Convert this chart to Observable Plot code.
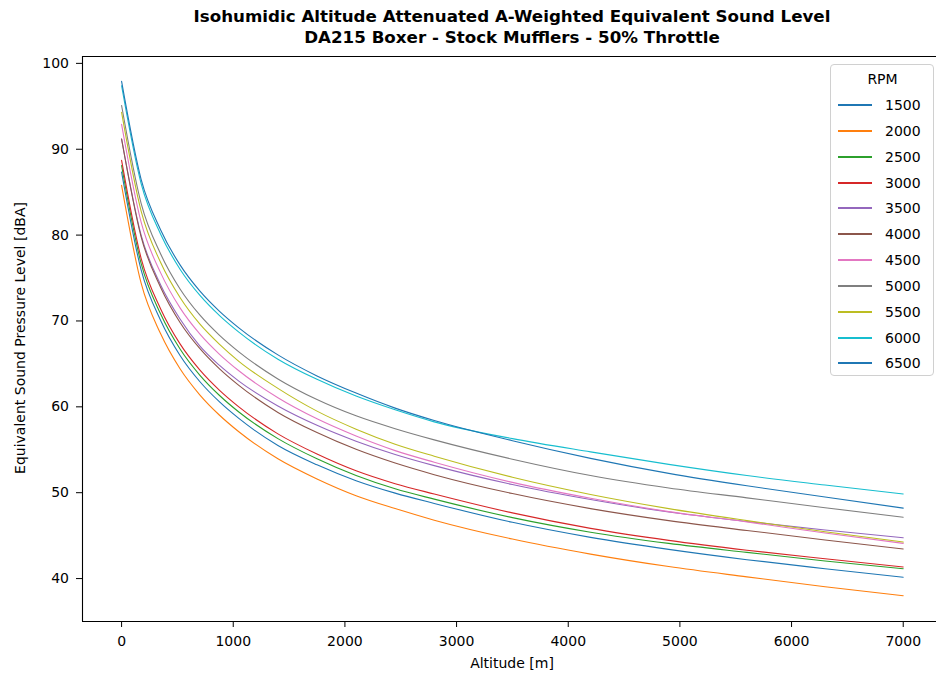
<!DOCTYPE html>
<html><head><meta charset="utf-8">
<script src="https://cdn.jsdelivr.net/npm/d3@7"></script>
<script src="https://cdn.jsdelivr.net/npm/@observablehq/plot@0.6"></script>
<style>
body{margin:0;background:#fff;font-family:"DejaVu Sans",sans-serif;color:#000;}
#wrap{position:relative;width:936px;height:677px;overflow:hidden;}
#wrap > svg{position:absolute;left:0;top:0;}
.title{position:absolute;left:82px;width:860px;text-align:center;font-weight:bold;font-size:16.7px;line-height:21px;top:6px;}
.xlab{position:absolute;left:82px;width:860px;text-align:center;font-size:14px;top:655px;}
.ylab{position:absolute;left:20px;top:338px;font-size:14px;white-space:nowrap;transform:translate(-50%,-50%) rotate(-90deg);}
.legend{position:absolute;left:830px;top:64px;width:104px;height:312px;border:1px solid #d0d0d0;border-radius:4px;background:rgba(255,255,255,0.8);box-sizing:border-box;}
.legend .lt{position:absolute;left:0;width:103px;text-align:center;top:6px;font-size:14px;}
.legend .row{position:absolute;left:0;height:16px;width:100px;}
.legend .sw{position:absolute;left:7px;top:7px;width:34px;height:2px;}
.legend .lb{position:absolute;left:54px;top:0;font-size:14px;line-height:16px;}
</style></head><body><div id="wrap"></div>
<script>
const altitudes = [0,175,350,525,700,875,1050,1400,1750,2100,2450,2800,3500,4200,4900,5600,6300,7000];
const rpms = ["1500","2000","2500","3000","3500","4000","4500","5000","5500","6000","6500"];
const colors = ["#1f77b4","#ff7f0e","#2ca02c","#d62728","#9467bd","#8c564b","#e377c2","#7f7f7f","#bcbd22","#17becf","#1f77b4"];
const xTicks = [0,1000,2000,3000,4000,5000,6000,7000];
const yTicks = [40,50,60,70,80,90,100];

const level1500 = [87.35,75.95,70.05,65.95,62.95,60.6,58.65,55.5,53.25,51.4,49.95,48.75,46.55,44.8,43.4,42.2,41.15,40.15];
const level2000 = [85.8,74.4,68.5,64.4,61.4,59.05,57.1,53.95,51.6,49.65,48.15,46.8,44.6,42.85,41.4,40.2,39.05,38.0];
const level2500 = [88.1,76.7,70.8,66.7,63.7,61.35,59.4,56.3,53.95,52.0,50.45,49.25,47.1,45.4,44.1,43.05,42.05,41.15];
const level3000 = [88.7,77.3,71.4,67.3,64.3,61.95,60.0,56.85,54.5,52.55,51.05,49.85,47.65,45.85,44.45,43.3,42.3,41.35];
const level3500 = [91.2,80.0,74.2,70.2,67.1,64.85,63.0,60.1,57.85,56.0,54.45,53.15,50.95,49.2,47.75,46.65,45.65,44.75];
const level4000 = [91.2,79.8,73.9,69.8,66.8,64.45,62.5,59.35,57.0,55.05,53.45,52.1,49.9,48.15,46.75,45.6,44.5,43.45];
const level4500 = [92.9,81.5,75.6,71.5,68.5,66.15,64.2,61.05,58.6,56.6,54.9,53.55,51.2,49.35,47.8,46.6,45.3,44.1];
const level5000 = [95.1,83.7,77.8,73.7,70.7,68.35,66.4,63.25,60.85,58.95,57.45,56.15,53.9,52.0,50.55,49.4,48.25,47.15];
const level5500 = [94.3,82.8,76.8,72.7,69.65,67.3,65.3,62.15,59.5,57.4,55.65,54.25,51.8,49.8,48.15,46.75,45.45,44.25];
const level6000 = [97.4,86.0,80.1,76.0,73.0,70.65,68.7,65.55,63.2,61.25,59.65,58.25,56.3,54.75,53.3,52.0,50.9,49.85];
const level6500 = [97.9,86.5,80.6,76.5,73.5,71.15,69.2,66.05,63.6,61.6,59.85,58.4,56.05,54.0,52.25,50.8,49.5,48.2];

const series = [level1500,level2000,level2500,level3000,level3500,level4000,level4500,level5000,level5500,level6000,level6500];
const rows = [];
series.forEach((vals,i)=>vals.forEach((v,j)=>rows.push({rpm:rpms[i],alt:altitudes[j],level:v})));

const chart = Plot.plot({
  width:936, height:677,
  marginTop:56, marginBottom:56, marginLeft:82, marginRight:0,
  style:{fontFamily:"DejaVu Sans", fontSize:"14px", color:"black", background:"transparent", overflow:"visible"},
  x:{domain:[-350,7298], ticks:xTicks, tickSize:6, tickPadding:9, label:null, tickFormat:d=>String(d)},
  y:{domain:[35,100.8], ticks:yTicks, tickSize:6, tickPadding:7.5, label:null, tickFormat:d=>String(d)},
  color:{type:"ordinal", domain:rpms, range:colors},
  marks:[
    Plot.line(rows,{x:"alt", y:"level", z:"rpm", stroke:"rpm", strokeWidth:1.1, curve:"monotone-x"}),
    Plot.ruleX([-350],{stroke:"black", strokeWidth:1.1}),
    Plot.ruleY([35,100.8],{stroke:"black", strokeWidth:1.1})
  ]
});
const wrap = document.getElementById("wrap");
wrap.appendChild(chart);

const t = document.createElement("div");
t.className="title";
t.innerHTML="Isohumidic Altitude Attenuated A-Weighted Equivalent Sound Level<br>DA215 Boxer - Stock Mufflers - 50% Throttle";
wrap.appendChild(t);
const xl = document.createElement("div"); xl.className="xlab"; xl.textContent="Altitude [m]"; wrap.appendChild(xl);
const yl = document.createElement("div"); yl.className="ylab"; yl.textContent="Equivalent Sound Pressure Level [dBA]"; wrap.appendChild(yl);

const lg = document.createElement("div"); lg.className="legend";
const lt = document.createElement("div"); lt.className="lt"; lt.textContent="RPM"; lg.appendChild(lt);
rpms.forEach((r,i)=>{
  const row=document.createElement("div"); row.className="row"; row.style.top=Math.round(32+i*25.84)+"px";
  const sw=document.createElement("div"); sw.className="sw"; sw.style.backgroundColor=colors[i];
  const lb=document.createElement("div"); lb.className="lb"; lb.textContent=r;
  row.appendChild(sw); row.appendChild(lb); lg.appendChild(row);
});
wrap.appendChild(lg);
</script></body></html>
